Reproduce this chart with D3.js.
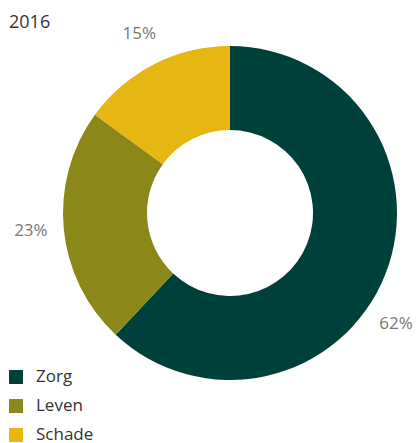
<!DOCTYPE html>
<html>
<head>
<meta charset="utf-8">
<script src="https://cdn.jsdelivr.net/npm/d3@7"></script>
<style>
  body { margin: 0; background: #fff; }
  text { font-family: "Open Sans", "Noto Sans", sans-serif; }
</style>
</head>
<body>
<script>
var title = "2016";
var categories = ["Zorg", "Leven", "Schade"];
var values = [62, 23, 15];
var colors = ["#00403a", "#8c8719", "#e6b712"];

var w = 416, h = 443,
    cx = 230, cy = 213,
    outerR = 167, innerR = 83, labelR = 200;

var svg = d3.select("body").append("svg").attr("width", w).attr("height", h);

svg.append("text").text(title)
  .attr("x", 9).attr("y", 28)
  .attr("font-size", 18).attr("fill", "#333");

var pie = d3.pie().sort(null).value(function(d){ return d; });
var arcs = pie(values);
var arc = d3.arc().innerRadius(innerR).outerRadius(outerR);

var g = svg.append("g").attr("transform", `translate(${cx}, ${cy})`);

g.selectAll("path").data(arcs).enter().append("path")
  .attr("d", arc)
  .attr("fill", function(d, i){ return colors[i]; });

// percentage labels, kept inside the window by sliding along the label circle
g.selectAll("text.pct").data(arcs).enter().append("text")
  .attr("class", "pct")
  .text(function(d){ return d.data + "%"; })
  .attr("font-size", 17)
  .attr("fill", "#777")
  .attr("text-anchor", "middle")
  .attr("dominant-baseline", "middle")
  .each(function(d){
    var a = (d.startAngle + d.endAngle) / 2;
    var x = labelR * Math.sin(a), y = -labelR * Math.cos(a);
    var maxX = w - cx - 20;
    if (x > maxX) { x = maxX; y = Math.sqrt(labelR * labelR - x * x) * (y < 0 ? -1 : 1); }
    d3.select(this).attr("x", x).attr("y", y);
  });

// legend
var legend = svg.selectAll("g.legend").data(categories).enter().append("g")
  .attr("class", "legend")
  .attr("transform", function(d, i){ return `translate(9, ${370 + i * 29})`; });

legend.append("rect")
  .attr("width", 14).attr("height", 14)
  .attr("fill", function(d, i){ return colors[i]; });

legend.append("text").text(function(d){ return d; })
  .attr("x", 27).attr("y", 7)
  .attr("dominant-baseline", "middle")
  .attr("font-size", 17).attr("fill", "#333");
</script>
</body>
</html>
